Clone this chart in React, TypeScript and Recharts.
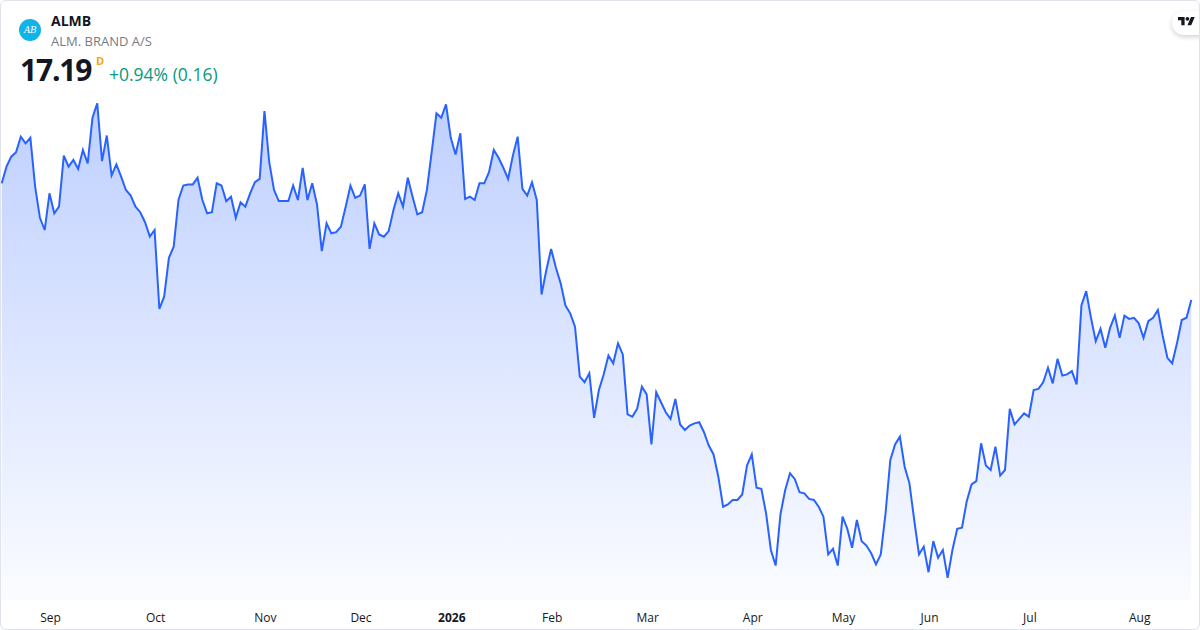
import React from 'react';
import { AreaChart, Area, XAxis, YAxis } from 'recharts';

// daily closes, ALMB, mid Aug 2025 -> mid Aug 2026
const closes = [
    18.24, 18.39, 18.48, 18.52, 18.66, 18.60, 18.65, 18.21, 17.93, 17.82,
    18.15, 17.97, 18.03, 18.49, 18.39, 18.45, 18.37, 18.54, 18.42, 18.83,
    18.96, 18.44, 18.67, 18.31, 18.41, 18.30, 18.18, 18.13, 18.03, 17.98,
    17.89, 17.76, 17.82, 17.11, 17.22, 17.57, 17.67, 18.09, 18.22, 18.23,
    18.23, 18.29,
    18.09, 17.97, 17.98, 18.24, 18.22, 18.08, 18.12, 17.93, 18.07, 18.03,
    18.15, 18.25, 18.28, 18.89, 18.43, 18.18, 18.08, 18.08, 18.08, 18.22,
    18.09, 18.38, 18.09, 18.24, 18.05, 17.63, 17.88, 17.79, 17.80, 17.85,
    18.03, 18.22, 18.11, 18.13, 18.23, 17.65, 17.88, 17.78, 17.76, 17.81,
    18.00,
    18.15, 18.03, 18.29, 18.12, 17.96, 17.98, 18.18, 18.52, 18.87, 18.83,
    18.95, 18.65, 18.50, 18.69, 18.10, 18.12, 18.09, 18.24, 18.24, 18.34,
    18.54, 18.47, 18.38, 18.28, 18.49, 18.66, 18.19, 18.13, 18.25, 18.09,
    17.24, 17.46, 17.65, 17.48, 17.34, 17.14, 17.07, 16.95,
    16.50, 16.45, 16.53, 16.13, 16.38, 16.52, 16.69, 16.62, 16.80, 16.70,
    16.16, 16.14, 16.21, 16.41, 16.34, 15.89, 16.36, 16.27, 16.18, 16.12,
    16.30, 16.07, 16.02, 16.06, 16.08, 16.09, 16.00, 15.88, 15.80, 15.60,
    15.33, 15.35, 15.39, 15.39, 15.44, 15.70, 15.80, 15.50, 15.49, 15.27,
    14.94, 14.80, 15.26, 15.48, 15.63, 15.58, 15.46, 15.45, 15.40, 15.39,
    15.33, 15.24, 14.90, 14.95, 14.80, 15.24, 15.13, 14.96, 15.21, 15.02,
    14.98, 14.91, 14.81, 14.90, 15.27, 15.75, 15.89, 15.96, 15.69, 15.54,
    15.21, 14.90, 14.97, 14.74, 15.02, 14.87, 14.94, 14.69, 14.94, 15.13,
    15.14,
    15.38, 15.53, 15.56, 15.90, 15.70, 15.66, 15.87, 15.61, 15.66, 16.21,
    16.07, 16.12, 16.17, 16.14, 16.38, 16.39, 16.45, 16.58, 16.44, 16.66,
    16.51, 16.52, 16.55, 16.43, 17.14, 17.27, 17.03, 16.82, 16.93, 16.76,
    16.94, 17.05, 16.85, 17.05, 17.02, 17.03, 16.98, 16.85, 17.00, 17.03,
    17.10, 16.87, 16.67, 16.62, 16.80, 17.01, 17.03, 17.19,
];

// index of first trading day of each month
const tickIdx = [10, 32, 55, 75, 94, 115, 135, 157, 176, 194, 215, 238];
const tickLabels = ['Sep', 'Oct', 'Nov', 'Dec', '2026', 'Feb', 'Mar', 'Apr', 'May', 'Jun', 'Jul', 'Aug'];

const data = closes.map((v, i) => ({ i, v }));

const FONT = '"Open Sans", "Noto Sans", sans-serif';

const MonthTick = ({ x, y, payload }: any) => {
    const k = tickIdx.indexOf(payload.value);
    const label = tickLabels[k] ?? '';
    const isYear = /^\d{4}$/.test(label);
    return (
        <text
            x={x + 1}
            y={y + 14}
            textAnchor="middle"
            fill="#131722"
            fontSize={12}
            fontWeight={isYear ? 700 : 400}
            fontFamily={FONT}
        >
            {label}
        </text>
    );
};

const TvLogo = () => (
    <div
        style={{
            position: 'absolute',
            left: 1171,
            top: 10,
            width: 44,
            height: 24,
            borderRadius: 12,
            background: '#fff',
            boxShadow: '0 2px 5px rgba(0,0,0,0.18)',
        }}
    >
        <svg width={17} height={13.2} viewBox="0 0 36 28" style={{ position: 'absolute', left: 6, top: 4 }}>
            <path d="M14 22H7V11H0V4h14v18zM28 22h-8l7.5-18h8L28 22z" fill="#131722" />
            <circle cx="20" cy="8" r="4" fill="#131722" />
        </svg>
    </div>
);

export default function App() {
    return (
        <div
            style={{
                position: 'absolute',
                left: 0,
                top: 0,
                width: 1200,
                height: 630,
                boxSizing: 'border-box',
                border: '1px solid #e0e3eb',
                borderRadius: 6,
                background: '#fff',
                overflow: 'hidden',
                fontFamily: FONT,
            }}
        >
            <div style={{ position: 'absolute', left: -1, top: -1 }}>
                <AreaChart
                    width={1200}
                    height={630}
                    data={data}
                    margin={{ top: 90, right: 8.7, bottom: 0, left: 1.7 }}
                >
                    <defs>
                        <linearGradient id="almbFill" x1="0" y1="0" x2="0" y2="1">
                            <stop offset="0%" stopColor="#2962ff" stopOpacity={0.3} />
                            <stop offset="100%" stopColor="#2962ff" stopOpacity={0.02} />
                        </linearGradient>
                    </defs>
                    <XAxis
                        dataKey="i"
                        type="number"
                        domain={[0, 249]}
                        ticks={tickIdx}
                        interval={0}
                        axisLine={false}
                        tickLine={false}
                        height={30}
                        tick={<MonthTick />}
                    />
                    <YAxis hide type="number" domain={[14.49, 19.08]} />
                    <Area
                        type="linear"
                        dataKey="v"
                        stroke="#2962ff"
                        strokeWidth={2}
                        fill="url(#almbFill)"
                        fillOpacity={1}
                        dot={false}
                        activeDot={false}
                        isAnimationActive={false}
                    />
                </AreaChart>
            </div>

            {/* header */}
            <div
                style={{
                    position: 'absolute',
                    left: 18,
                    top: 18,
                    width: 22,
                    height: 22,
                    borderRadius: '50%',
                    background: '#10b4ea',
                    color: '#fff',
                    fontFamily: '"DejaVu Serif", serif',
                    fontStyle: 'italic',
                    fontSize: 9,
                    lineHeight: '22px',
                    textAlign: 'center',
                    letterSpacing: -0.5,
                }}
            >
                AB
            </div>
            <div style={{ position: 'absolute', left: 50, top: 10, fontSize: 14, fontWeight: 700, color: '#131722', lineHeight: '20px' }}>
                ALMB
            </div>
            <div style={{ position: 'absolute', left: 50, top: 31, fontSize: 13, color: '#787b86', lineHeight: '18px' }}>
                ALM. BRAND A/S
            </div>
            <div style={{ position: 'absolute', left: 19, top: 49, fontSize: 30, fontWeight: 700, color: '#131722', lineHeight: '40px', letterSpacing: -1.2 }}>
                17.19
            </div>
            <div style={{ position: 'absolute', left: 95, top: 53, fontSize: 11, fontWeight: 700, color: '#f7a600', lineHeight: '14px' }}>
                D
            </div>
            <div style={{ position: 'absolute', left: 108, top: 61, fontSize: 17.5, color: '#089981', lineHeight: '24px' }}>
                +0.94% (0.16)
            </div>
            <TvLogo />
        </div>
    );
}
